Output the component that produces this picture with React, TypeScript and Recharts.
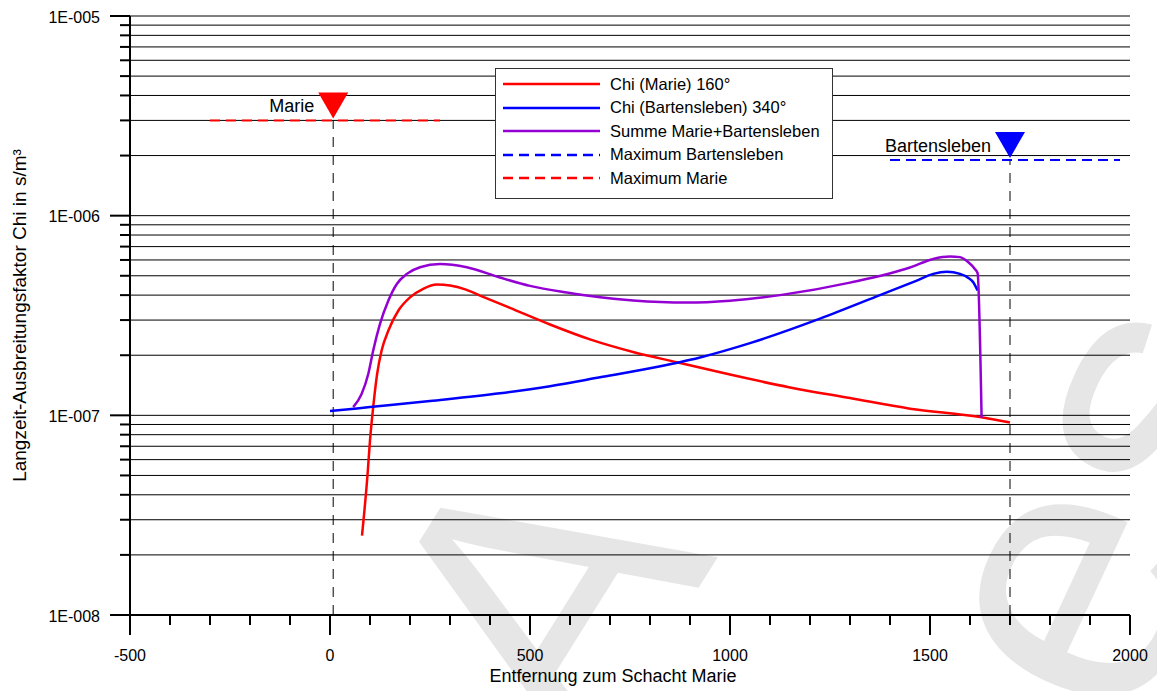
import React from "react";
import {
  CartesianGrid,
  ComposedChart,
  Label,
  Legend,
  Line,
  ReferenceDot,
  ReferenceLine,
  XAxis,
  YAxis,
} from "recharts";

const FONT = '"Liberation Sans", Arial, Helvetica, sans-serif';

// Achsen
const X_TICKS = [
  -500, -400, -300, -200, -100, 0, 100, 200, 300, 400, 500, 600, 700, 800, 900,
  1000, 1100, 1200, 1300, 1400, 1500, 1600, 1700, 1800, 1900, 2000,
];
const X_LABELS = [-500, 0, 500, 1000, 1500, 2000];
const Y_TICKS = [
  1e-8, 2e-8, 3e-8, 4e-8, 5e-8, 6e-8, 7e-8, 8e-8, 9e-8,
  1e-7, 2e-7, 3e-7, 4e-7, 5e-7, 6e-7, 7e-7, 8e-7, 9e-7,
  1e-6, 2e-6, 3e-6, 4e-6, 5e-6, 6e-6, 7e-6, 8e-6, 9e-6,
  1e-5,
];

// Chi (Marie) 160°
const MARIE_X = [80, 94, 100, 108, 118, 129, 146, 171, 200, 233, 267, 300, 340, 375, 450, 550, 650, 760, 870, 1000, 1150, 1300, 1450, 1625, 1700];
const MARIE_CHI = [2.5e-8, 5.1e-8, 7.5e-8, 1.1e-7, 1.62e-7, 2.11e-7, 2.66e-7, 3.35e-7, 3.9e-7, 4.3e-7, 4.52e-7, 4.47e-7, 4.26e-7, 3.98e-7, 3.45e-7, 2.85e-7, 2.4e-7, 2.07e-7, 1.84e-7, 1.6e-7, 1.38e-7, 1.22e-7, 1.08e-7, 9.8e-8, 9.2e-8];

// Chi (Bartensleben) 340°
const BART_X = [0, 100, 250, 425, 550, 675, 800, 925, 1050, 1225, 1375, 1467, 1508, 1542, 1575, 1596, 1608, 1619];
const BART_CHI = [1.05e-7, 1.1e-7, 1.18e-7, 1.29e-7, 1.4e-7, 1.55e-7, 1.72e-7, 1.95e-7, 2.3e-7, 3.05e-7, 4.0e-7, 4.73e-7, 5.11e-7, 5.24e-7, 5.11e-7, 4.88e-7, 4.64e-7, 4.22e-7];

// Summe Marie+Bartensleben
const SUM_X = [58, 79, 96, 108, 125, 146, 167, 192, 225, 275, 342, 425, 500, 592, 675, 758, 892, 1000, 1125, 1300, 1450, 1508, 1550, 1575, 1596, 1612, 1619, 1629];
const SUM_CHI = [1.1e-7, 1.28e-7, 1.62e-7, 2.11e-7, 2.87e-7, 3.76e-7, 4.55e-7, 5.11e-7, 5.52e-7, 5.73e-7, 5.52e-7, 4.9e-7, 4.45e-7, 4.12e-7, 3.9e-7, 3.76e-7, 3.67e-7, 3.75e-7, 4.0e-7, 4.62e-7, 5.5e-7, 6.07e-7, 6.24e-7, 6.2e-7, 5.84e-7, 5.41e-7, 5.15e-7, 9.7e-8];

// Maxima und Schachtpositionen
const MAX_MARIE = 3e-6;
const MAX_MARIE_RANGE = [-300, 275];
const MAX_BART = 1.9e-6;
const MAX_BART_RANGE = [1400, 1975];
const SHAFT_MARIE_X = 8;
const SHAFT_BART_X = 1700;

const SERIES_ORDER = [
  "Chi (Marie) 160°",
  "Chi (Bartensleben) 340°",
  "Summe Marie+Bartensleben",
  "Maximum Bartensleben",
  "Maximum Marie",
];

const toPoints = (xs: number[], ys: number[]) => xs.map((x, i) => ({ x, y: ys[i] }));

const isDecade = (v: number) => Math.abs(Math.log10(v) - Math.round(Math.log10(v))) < 1e-9;
const formatExp = (v: number) => {
  const e = Math.round(Math.log10(v));
  return `1E${e < 0 ? "-" : "+"}${String(Math.abs(e)).padStart(3, "0")}`;
};

function XTick({ x, y, payload }: any) {
  const major = X_LABELS.includes(payload.value);
  return (
    <g>
      <line x1={x} x2={x} y1={y} y2={y + (major ? 20 : 10)} stroke="#000" strokeWidth={2} />
      {major && (
        <text x={x} y={y + 40} textAnchor="middle" dominantBaseline="central" fontSize={16} fill="#000">
          {payload.value}
        </text>
      )}
    </g>
  );
}

function YTick({ x, y, payload }: any) {
  const major = isDecade(payload.value);
  return (
    <g>
      <line x1={x - (major ? 20 : 10)} x2={x} y1={y} y2={y} stroke="#000" strokeWidth={2} />
      {major && (
        <text x={x - 30} y={y + 1} textAnchor="end" dominantBaseline="central" fontSize={16} fill="#000">
          {formatExp(payload.value)}
        </text>
      )}
    </g>
  );
}

const markerShape = (label: string, color: string) => (props: any) => {
  const { cx, cy } = props;
  return (
    <g>
      <path d={`M${cx - 15},${cy - 28} L${cx + 15},${cy - 28} L${cx},${cy - 2} Z`} fill={color} />
      <text x={cx - 19} y={cy - 14} textAnchor="end" dominantBaseline="central" fontSize={18} fill="#000">
        {label}
      </text>
    </g>
  );
};

function LegendBox({ payload }: any) {
  const items = [...(payload ?? [])].sort(
    (a: any, b: any) => SERIES_ORDER.indexOf(a.value) - SERIES_ORDER.indexOf(b.value)
  );
  return (
    <div
      style={{
        width: 338,
        height: 131,
        boxSizing: "border-box",
        border: "1px solid #333",
        background: "#fff",
        position: "relative",
        fontFamily: FONT,
        fontSize: 16.5,
        color: "#000",
      }}
    >
      {items.map((entry: any, i: number) => (
        <div
          key={entry.value}
          style={{ position: "absolute", left: 7, top: 3 + i * 23.6, height: 24, display: "flex", alignItems: "center" }}
        >
          <svg width={97} height={4} style={{ display: "block" }}>
            <line
              x1={0}
              y1={2}
              x2={97}
              y2={2}
              stroke={entry.color}
              strokeWidth={2.5}
              strokeDasharray={entry.payload?.strokeDasharray}
            />
          </svg>
          <span style={{ marginLeft: 10, whiteSpace: "nowrap" }}>{entry.value}</span>
        </div>
      ))}
    </div>
  );
}

// Wasserzeichen im Hintergrund
function Watermark() {
  return (
    <svg width={1157} height={691} style={{ position: "absolute", left: 0, top: 0 }}>
      <g fill="#e6e6e6" fontFamily={FONT} fontSize={380}>
        <text x={651} y={664} textAnchor="middle" transform="rotate(-58 651 664)">A</text>
        <text x={1130} y={738} textAnchor="start" transform="rotate(-65 1130 738)">es</text>
      </g>
    </svg>
  );
}

export default function App() {
  const marie = toPoints(MARIE_X, MARIE_CHI);
  const bart = toPoints(BART_X, BART_CHI);
  const sum = toPoints(SUM_X, SUM_CHI);
  const maxMarie = MAX_MARIE_RANGE.map((x) => ({ x, y: MAX_MARIE }));
  const maxBart = MAX_BART_RANGE.map((x) => ({ x, y: MAX_BART }));

  return (
    <div style={{ position: "absolute", left: 0, top: 0, width: 1157, height: 691, background: "#fff", overflow: "hidden" }}>
      <Watermark />
      <div style={{ position: "absolute", left: 0, top: 0 }}>
        <ComposedChart
          width={1157}
          height={691}
          margin={{ top: 16, right: 27, bottom: 0, left: 0 }}
          style={{ fontFamily: FONT }}
        >
          <CartesianGrid horizontal vertical={false} stroke="#000" strokeWidth={1} />
          <XAxis
            dataKey="x"
            type="number"
            domain={[-500, 2000]}
            ticks={X_TICKS}
            interval={0}
            allowDataOverflow
            height={76}
            tick={<XTick />}
            tickLine={false}
            tickSize={0}
            tickMargin={0}
            axisLine={{ stroke: "#000", strokeWidth: 2 }}
          >
            <Label
              content={({ viewBox }: any) => (
                <text
                  x={viewBox.x + viewBox.width / 2 - 17}
                  y={viewBox.y + 61}
                  textAnchor="middle"
                  dominantBaseline="central"
                  fontSize={18}
                  fill="#000"
                >
                  Entfernung zum Schacht Marie
                </text>
              )}
            />
          </XAxis>
          <YAxis
            dataKey="y"
            type="number"
            scale="log"
            domain={[1e-8, 1e-5]}
            ticks={Y_TICKS}
            interval={0}
            allowDataOverflow
            width={130}
            tick={<YTick />}
            tickLine={false}
            tickSize={0}
            tickMargin={0}
            axisLine={{ stroke: "#000", strokeWidth: 2 }}
          >
            <Label
              content={({ viewBox }: any) => {
                const cx = viewBox.x + 19;
                const cy = viewBox.y + viewBox.height / 2;
                return (
                  <text
                    x={cx}
                    y={cy}
                    textAnchor="middle"
                    dominantBaseline="central"
                    fontSize={19}
                    fill="#000"
                    transform={`rotate(-90 ${cx} ${cy})`}
                  >
                    Langzeit-Ausbreitungsfaktor Chi in s/m³
                  </text>
                );
              }}
            />
          </YAxis>

          <ReferenceLine
            segment={[{ x: SHAFT_MARIE_X, y: 1e-8 }, { x: SHAFT_MARIE_X, y: MAX_MARIE }]}
            stroke="#000"
            strokeWidth={1}
            strokeDasharray="10 8"
          />
          <ReferenceLine
            segment={[{ x: SHAFT_BART_X, y: 1e-8 }, { x: SHAFT_BART_X, y: MAX_BART }]}
            stroke="#000"
            strokeWidth={1}
            strokeDasharray="10 8"
          />

          <Line data={marie} dataKey="y" name={SERIES_ORDER[0]} type="monotone" stroke="#ff0000" strokeWidth={2.5} dot={false} isAnimationActive={false} />
          <Line data={bart} dataKey="y" name={SERIES_ORDER[1]} type="monotone" stroke="#0000ff" strokeWidth={2.5} dot={false} isAnimationActive={false} />
          <Line data={sum} dataKey="y" name={SERIES_ORDER[2]} type="monotone" stroke="#9400d3" strokeWidth={2.5} dot={false} isAnimationActive={false} />
          <Line data={maxBart} dataKey="y" name={SERIES_ORDER[3]} type="linear" stroke="#0000ff" strokeWidth={2} strokeDasharray="10 6" dot={false} isAnimationActive={false} />
          <Line data={maxMarie} dataKey="y" name={SERIES_ORDER[4]} type="linear" stroke="#ff0000" strokeWidth={2} strokeDasharray="10 6" dot={false} isAnimationActive={false} />

          <ReferenceDot x={SHAFT_MARIE_X} y={MAX_MARIE} shape={markerShape("Marie", "#ff0000")} />
          <ReferenceDot x={SHAFT_BART_X} y={MAX_BART} shape={markerShape("Bartensleben", "#0000ff")} />

          <Legend
            content={<LegendBox />}
            layout="horizontal"
            verticalAlign="middle"
            align="center"
            wrapperStyle={{ left: 495, top: 68, width: 338, height: 131 }}
          />
        </ComposedChart>
      </div>
    </div>
  );
}
